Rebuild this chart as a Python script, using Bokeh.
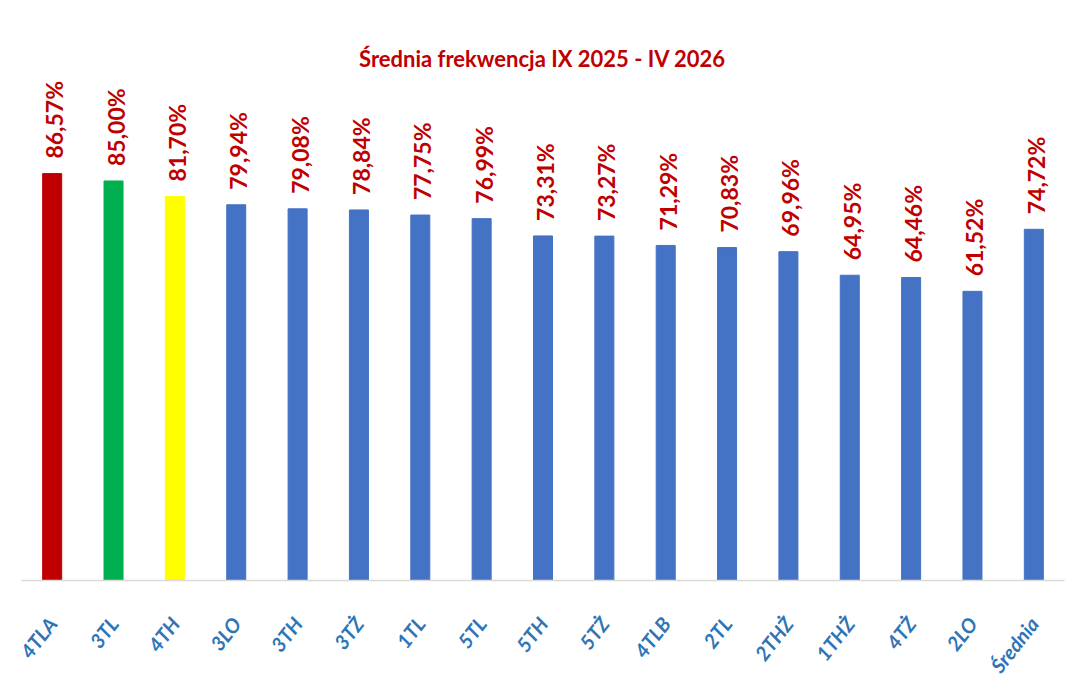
import math
from bokeh.plotting import figure
from bokeh.models import ColumnDataSource, Range1d, Label
from bokeh.core.properties import value
from bokeh.embed import file_html
from bokeh.resources import INLINE

classes = ["4TLA", "3TL", "4TH", "3LO", "3TH", "3TŻ", "1TL", "5TL", "5TH",
           "5TŻ", "4TLB", "2TL", "2THŻ", "1THŻ", "4TŻ", "2LO", "Średnia"]
attendance = [86.57, 85.00, 81.70, 79.94, 79.08, 78.84, 77.75, 76.99, 73.31,
              73.27, 71.29, 70.83, 69.96, 64.95, 64.46, 61.52, 74.72]

top_colors = ["#C00000", "#00B050", "#FFFF00"]
colors = top_colors + ["#4472C4"] * (len(classes) - len(top_colors))
labels = [f"{v:.2f}%".replace(".", ",") for v in attendance]

source = ColumnDataSource(data=dict(cls=classes, val=attendance, color=colors, lab=labels))

p = figure(x_range=classes, y_range=Range1d(0, 123.4),
           width=1084, height=690,
           output_backend="svg", toolbar_location=None,
           min_border_left=21, min_border_right=20,
           min_border_top=0, min_border_bottom=110)

p.vbar(x="cls", top="val", width=0.31, color="color", source=source)

p.text(x="cls", y="val", text="lab", source=source,
       angle=math.pi / 2, text_align="left", text_baseline="middle",
       y_offset=-15, x_offset=2, text_color="#C00000",
       text_font=value("Lato"), text_font_style="bold", text_font_size="23px")

p.add_layout(Label(x=521, y=522, x_units="screen", y_units="screen",
                   text="Średnia frekwencja IX 2025 - IV 2026",
                   text_align="center", text_baseline="middle",
                   text_color="#C00000", text_font="Lato",
                   text_font_style="bold", text_font_size="22px"))

p.yaxis.visible = False
p.xgrid.grid_line_color = None
p.ygrid.grid_line_color = None
p.outline_line_color = None

p.xaxis.axis_line_color = "#D9D9D9"
p.xaxis.axis_line_width = 1.5
p.xaxis.major_tick_line_color = None
p.xaxis.minor_tick_line_color = None
p.xaxis.major_label_orientation = math.radians(52)
p.xaxis.major_label_standoff = 33
p.xaxis.major_label_text_color = "#2E75B6"
p.xaxis.major_label_text_font = "Lato"
p.xaxis.major_label_text_font_style = "bold italic"
p.xaxis.major_label_text_font_size = "20px"
p.x_range.range_padding = 0

open("out.html", "w").write(file_html(p, INLINE))
